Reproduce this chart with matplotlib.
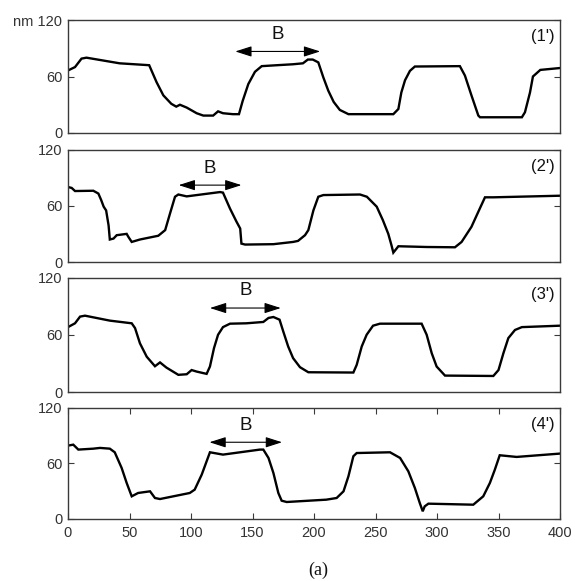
import matplotlib
matplotlib.use("Agg")
import matplotlib.pyplot as plt

# ---- data (x in sample units, y in nm) ----
x1 = [0, 5.7, 11, 15, 42, 66, 72, 77.5, 84, 88, 91, 96.5, 104.6, 110, 118, 122, 126, 134, 139, 142,
      146.6, 152, 157.5, 170, 183, 191, 195, 199, 203.5, 207.6, 211.6, 216, 221, 228, 264.5, 268.6,
      271, 274, 278, 282, 318.6, 322.7, 328, 333.6, 335, 369, 371.5, 375.6, 378, 384, 400]
y1 = [66.4, 70, 79, 80, 74, 72, 54, 40, 31, 28, 30, 27, 21, 18.5, 18.5, 23, 21, 20, 20, 34,
      52, 65, 71, 72, 73, 74, 78, 78, 75, 59, 45, 33, 24.5, 20, 20, 25.5,
      43, 56, 66, 70.6, 71, 61, 40, 18.5, 16.7, 16.7, 22, 43, 60, 67, 69]

x2 = [0, 3, 5.7, 20.6, 24.7, 27, 29, 31, 33, 34, 37, 39.6, 47.7, 49, 51.8, 58.5, 73.4, 79, 83, 87,
      89.7, 96.5, 123.6, 126, 131.7, 137, 140, 141, 144, 167, 183, 187, 192.7, 195.4, 199.5, 203.5,
      207.6, 237.4, 243, 251, 256, 260.4, 263, 264.5, 266.7, 268.6, 291.6, 314.6, 320, 328, 333.6,
      339, 346, 400]
y2 = [80, 79, 75.7, 76, 73, 66, 59, 55, 39, 24, 25, 28.6, 30, 27, 21.4, 24, 28, 34, 52, 69.6,
      72, 70, 74.6, 74, 57, 43, 35.7, 19.6, 18.6, 19, 21.4, 22.5, 28.6, 34, 55, 69.6,
      71.4, 72, 69.6, 59, 44.6, 30, 17.8, 10, 13.6, 16.8, 16, 15.7, 21.4, 37.5, 53.6,
      69, 69, 70.7]

x3 = [0, 5.7, 9.8, 13.8, 34, 51.8, 54.5, 58.5, 64, 70.7, 74.8, 80, 89.7, 96.5, 100.5, 104.6, 112.7,
      115.4, 118.7, 122, 126, 131.7, 145, 158.8, 163, 167, 172, 175, 179, 183, 188.6, 195.4, 232,
      234.7, 238.8, 242.8, 248, 253.6, 287.5, 291.6, 295.7, 299.7, 306.5, 345.8, 350, 354, 358,
      363.4, 369, 400]
y3 = [68, 72, 79, 80, 74.8, 72, 67, 51, 37, 27, 31, 25.6, 18, 18.6, 23, 21.4, 19,
      26.7, 46, 60, 68, 71.6, 72, 73.4, 77.6, 78.6, 75.8, 63.5, 47.7, 35.5, 26, 20.7, 20.4,
      28.4, 47.7, 60, 69.5, 71.6, 71.6, 60, 40.7, 26.7, 17.2, 16.8, 23, 40.7, 56.5,
      65, 68, 69.5]

x4 = [0, 4.3, 8.4, 20.6, 26, 34, 38, 43.6, 47.7, 51.8, 57, 66.7, 70.7, 74.8, 99, 103, 108.7, 115.4,
      126, 156, 158.8, 163, 167, 171, 173.7, 177.8, 210, 218.4, 224, 228, 232, 234.7, 261.8, 270,
      276.7, 282, 286, 288.4, 290, 293, 329.5, 337.6, 343, 347, 351, 364.7, 400]
y4 = [79, 80, 74.7, 75.7, 76.5, 75.7, 71.8, 55, 38.8, 24.4, 28, 29.8, 22.6, 21.5, 28, 31.6, 47.7, 71.8,
      69.3, 74.7, 74.7, 65.7, 49.5, 28, 19.7, 18.3, 20.8, 22.6, 29.8, 46, 67.5, 71, 71.8, 65.7,
      51.3, 33.4, 17.2, 8.3, 13.6, 16.5, 15.4, 24.4, 38.8, 53, 68.6, 66.8, 70.4]

series_x = [x1, x2, x3, x4]
series_y = [y1, y2, y3, y4]
panel_labels = ["(1')", "(2')", "(3')", "(4')"]
# B arrow spans (x start, x end, y)
arrow_x0 = [136, 90, 115.4, 115]
arrow_x1 = [205, 141, 173, 174]
arrow_y = [86.6, 82, 88, 82.6]
xticks = [0, 50, 100, 150, 200, 250, 300, 350, 400]
yticks = [0, 60, 120]

# ---- layout ----
W, H = 575, 581
fig = plt.figure(figsize=(W / 100, H / 100), dpi=100)
left, right = 68 / W, 560 / W
panels_px = [(20, 133), (149.5, 262), (277.5, 392), (407.5, 519)]
font = "Liberation Sans"
spine_col = "#3a3a3a"

for i, (top, bot) in enumerate(panels_px):
    ax = fig.add_axes([left, 1 - bot / H, right - left, (bot - top) / H])
    ax.plot(series_x[i], series_y[i], color="black", lw=1.7, solid_joinstyle="miter")
    ax.set_xlim(0, 400)
    ax.set_ylim(0, 120)
    for s in ax.spines.values():
        s.set_color(spine_col)
        s.set_linewidth(1.0)
    ax.set_yticks(yticks)
    if i == 0:
        ax.set_yticklabels(["0", "60", "nm 120"])
    else:
        ax.set_yticklabels([str(t) for t in yticks])
    ax.tick_params(axis="y", direction="in", length=4, width=0.8, color=spine_col,
                   right=True, labelsize=10.5, pad=4, labelcolor="#333333")
    if i == 3:
        ax.set_xticks(xticks)
        ax.tick_params(axis="x", direction="in", length=4, width=0.8, color=spine_col,
                       top=True, labelsize=10.5, pad=5, labelcolor="#333333")
    else:
        ax.set_xticks([])
    for lab in ax.get_xticklabels() + ax.get_yticklabels():
        lab.set_fontfamily(font)
    # arrow
    ax.annotate("", xy=(arrow_x0[i], arrow_y[i]), xytext=(arrow_x1[i], arrow_y[i]),
                arrowprops=dict(arrowstyle="<|-|>,head_length=1.0,head_width=0.32",
                                color="black", lw=0.8, shrinkA=0, shrinkB=0))
    ax.text((arrow_x0[i] + arrow_x1[i]) / 2, arrow_y[i] + 9, "B", ha="center", va="bottom",
            fontsize=13.5, family=font, color="#111111")
    ax.text(396, 110, panel_labels[i], ha="right", va="top", fontsize=12, family=font,
            color="#111111")

fig.text(318 / W, 1 - 570 / H, "(a)", ha="center", va="center", fontsize=13,
         family="Liberation Serif", color="#111111")

fig.savefig("out.png", dpi=100, facecolor="white")
